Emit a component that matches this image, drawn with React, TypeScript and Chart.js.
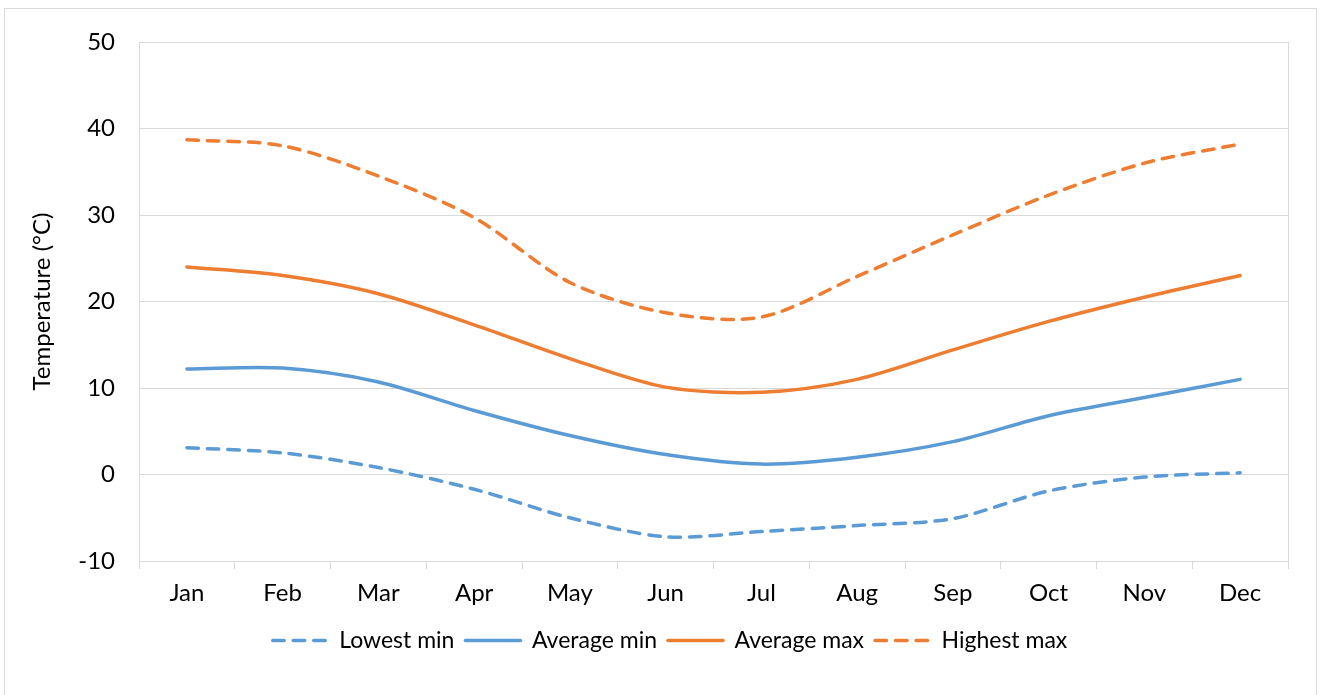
import React, { useEffect, useRef } from "react";
import { Chart, registerables } from "chart.js";

Chart.register(...registerables);

const months = ["Jan", "Feb", "Mar", "Apr", "May", "Jun", "Jul", "Aug", "Sep", "Oct", "Nov", "Dec"];
const lowestMin = [3.1, 2.5, 0.8, -1.7, -5.0, -7.2, -6.6, -5.9, -5.1, -1.9, -0.3, 0.2];
const averageMin = [12.2, 12.3, 10.7, 7.4, 4.5, 2.3, 1.2, 2.0, 3.8, 6.8, 8.9, 11.0];
const averageMax = [24.0, 23.0, 20.9, 17.3, 13.4, 10.1, 9.5, 11.0, 14.4, 17.7, 20.5, 23.0];
const highestMax = [38.7, 38.0, 34.5, 29.7, 22.2, 18.7, 18.2, 22.9, 27.7, 32.3, 36.0, 38.2];
const yTicks = { min: -10, max: 50, step: 10 };

const BLUE = "#5B9BD5";
const ORANGE = "#ED7D31";
const GRID = "#d9d9d9";
const FONT = "Lato";

export default function App() {
  const ref = useRef<HTMLCanvasElement | null>(null);
  useEffect(() => {
    if (!ref.current) return;
    const frame = {
      id: "plotFrame",
      afterDraw(chart: any) {
        const { ctx, chartArea } = chart;
        ctx.save();
        ctx.strokeStyle = GRID;
        ctx.lineWidth = 1;
        ctx.strokeRect(
          Math.round(chartArea.left) + 0.5,
          Math.round(chartArea.top) + 0.5,
          Math.round(chartArea.right - chartArea.left),
          Math.round(chartArea.bottom - chartArea.top)
        );
        ctx.restore();
      },
    };
    const mk = (label: string, data: number[], color: string, dashed: boolean) => ({
      label,
      data,
      borderColor: color,
      backgroundColor: color,
      borderWidth: 3.5,
      borderDash: dashed ? [11.5, 9] : [],
      borderCapStyle: "round" as const,
      pointRadius: 0,
      tension: 0.3,
      fill: false,
    });
    const chart = new Chart(ref.current, {
      type: "line",
      data: {
        labels: months,
        datasets: [
          mk("Lowest min", lowestMin, BLUE, true),
          mk("Average min", averageMin, BLUE, false),
          mk("Average max", averageMax, ORANGE, false),
          mk("Highest max", highestMax, ORANGE, true),
        ],
      },
      options: {
        responsive: false,
        animation: false,
        layout: { padding: { left: 52, right: 37, top: 42, bottom: 33 } },
        plugins: {
          tooltip: { enabled: false },
          legend: {
            position: "bottom",
            labels: {
              usePointStyle: true,
              pointStyle: "line",
              pointStyleWidth: 55,
              boxHeight: 20,
              padding: 11,
              color: "#000",
              font: { family: FONT, size: 23 },
              generateLabels: (c: any) =>
                c.data.datasets.map((ds: any, i: number) => ({
                  text: ds.label,
                  fillStyle: ds.borderColor,
                  strokeStyle: ds.borderColor,
                  fontColor: "#000",
                  lineWidth: 3.5,
                  lineDash: ds.borderDash,
                  lineCap: "round",
                  pointStyle: "line",
                  hidden: false,
                  datasetIndex: i,
                })),
            },
          },
        },
        scales: {
          x: {
            offset: true,
            grid: {
              offset: true,
              drawOnChartArea: false,
              drawTicks: true,
              tickLength: 8,
              color: GRID,
            },
            border: { color: GRID },
            ticks: { color: "#000", padding: 10, font: { family: FONT, size: 24 } },
            afterFit: (s: any) => {
              s.height = 57;
            },
          },
          y: {
            min: yTicks.min,
            max: yTicks.max,
            ticks: { stepSize: yTicks.step, color: "#000", padding: 24, font: { family: FONT, size: 24 } },
            grid: { color: GRID, drawTicks: false },
            border: { color: GRID },
            title: {
              display: true,
              text: "Temperature (°C)",
              color: "#000",
              font: { family: FONT, size: 24 },
              padding: { top: -24.4, bottom: 0 },
            },
            afterFit: (s: any) => {
              s.width = 87;
            },
          },
        },
      },
      plugins: [frame],
    });
    return () => chart.destroy();
  }, []);
  return (
    <div style={{ position: "absolute", left: 0, top: 0, width: 1325, height: 695, background: "#fff" }}>
      <div
        style={{
          position: "absolute",
          left: 4,
          top: 8,
          width: 1313,
          height: 700,
          border: `1px solid ${GRID}`,
          boxSizing: "border-box",
        }}
      />
      <canvas ref={ref} width={1325} height={695} style={{ position: "absolute", left: 0, top: 0 }} />
    </div>
  );
}
